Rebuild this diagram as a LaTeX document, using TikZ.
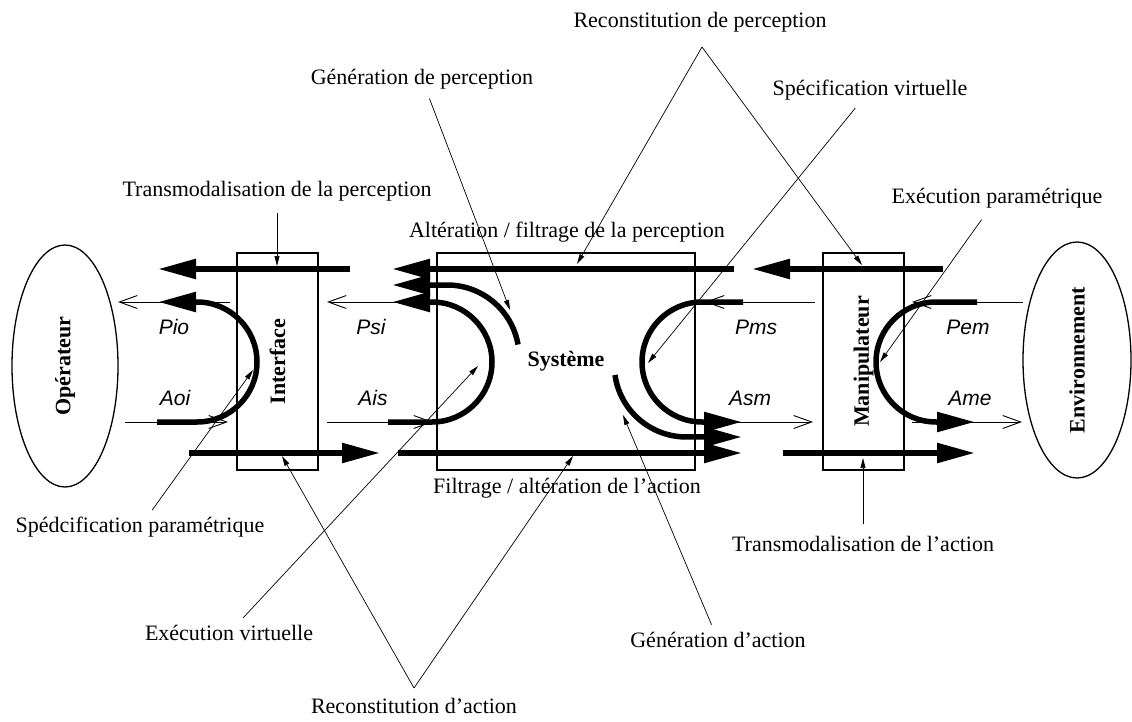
\documentclass[tikz,border=0pt]{standalone}
\usepackage{fontspec}
\setmainfont{Liberation Serif}
\newfontfamily\sigfont{Liberation Sans}
\usetikzlibrary{arrows.meta,shapes.geometric}

\begin{document}
\begin{tikzpicture}[x=1pt,y=-1pt,
  every node/.style={font=\fontsize{22}{26}\selectfont, inner sep=0pt},
  bloc/.style={draw, line width=1.3pt, rotate=90, minimum width=217pt, minimum height=81pt,
    font=\fontsize{22}{26}\selectfont\bfseries},
  acteur/.style={draw, ellipse, line width=1.3pt, rotate=90,
    font=\fontsize{22}{26}\selectfont\bfseries},
  flux/.style={line width=5.5pt, -{Triangle[length=38pt,width=19pt]}},
  signal/.style={line width=0.9pt, -{Straight Barb[length=18pt,width=13pt]}},
  renvoi/.style={line width=0.7pt, -{Triangle[length=10pt,width=5pt]}},
  sig/.style={font=\fontsize{21}{24}\selectfont\sigfont\itshape}]
\useasboundingbox (0,0) rectangle (1132,722);

% acteurs et blocs
\node[acteur, minimum width=242pt, minimum height=106pt] (ope) at (65,366) {Opérateur};
\node[acteur, minimum width=236pt, minimum height=108pt] (env) at (1077,360) {Environnement};
\node[bloc] (ifc) at (277.5,361.5) {Interface};
\node[draw, line width=1.3pt, minimum width=258pt, minimum height=217pt,
  font=\fontsize{22}{26}\selectfont\bfseries] (sys) at (566,361.5) {Système};
\node[bloc] (man) at (863.5,361.5) {Manipulateur};

% signaux fins
\draw[signal] (230,302) -- (118,302);
\draw[signal] (125,422) -- (228,422);
\draw[signal] (437,302) -- (327,302);
\draw[signal] (327,422) -- (433,422);
\draw[signal] (815,302) -- (705,302);
\draw[signal] (695,422) -- (813,422);
\draw[signal] (1023,302) -- (912,302);
\draw[signal] (912,422) -- (1022,422);
\node[sig] (pio) at (174,327) {Pio};
\node[sig] (aoi) at (175,398) {Aoi};
\node[sig] (psi) at (371,327) {Psi};
\node[sig] (ais) at (373,398) {Ais};
\node[sig] (pms) at (756,327) {Pms};
\node[sig] (asm) at (750,398) {Asm};
\node[sig] (pem) at (968,327) {Pem};
\node[sig] (ame) at (970,398) {Ame};

% flux epais: perception (haut) et action (bas)
\draw[flux] (350,269) -- (158,269);
\draw[flux] (734,269) -- (392,269);
\draw[flux] (943,269) -- (752,269);
\draw[flux] (189,453) -- (380,453);
\draw[flux] (398,453) -- (742,453);
\draw[flux] (783,453) -- (975,453);

% boucles
\draw[flux] (157,422) -- (197,422) arc[start angle=90, end angle=-90, radius=60] -- (158,302);
\draw[flux] (388,422) -- (432,422) arc[start angle=90, end angle=-90, radius=60] -- (392,302);
\draw[flux] (518,344.5) arc[start angle=-10, end angle=-90, radius=72] -- (392,285);
\draw[flux] (743,302) -- (702,302) arc[start angle=-90, end angle=-270, radius=60] -- (742,422);
\draw[flux] (615,375) arc[start angle=172, end angle=90, radius=72] -- (742,437);
\draw[flux] (977,302) -- (936,302) arc[start angle=-90, end angle=-270, radius=60] -- (975,422);

% legendes
\node (tp) at (277,191) {Transmodalisation de la perception};
\node (ap) at (567,232) {Altération / filtrage de la perception};
\node (gp) at (422,79) {Génération de perception};
\node (rp) at (700,22) {Reconstitution de perception};
\node (sv) at (870,90) {Spécification virtuelle};
\node (ep) at (997,198) {Exécution paramétrique};
\node (spp) at (140,527) {Spédcification paramétrique};
\node (ev) at (229,633) {Exécution virtuelle};
\node (ra) at (414,706) {Reconstitution d’action};
\node (fa) at (567,488) {Filtrage / altération de l’action};
\node (ga) at (718,640) {Génération d’action};
\node (ta) at (863,544) {Transmodalisation de l’action};

\coordinate (rp-top) at (702,47);
\coordinate (ra-bot) at (414,688);
\draw[renvoi, shorten <=12pt] (tp) -- (277,266);
\draw[renvoi, shorten <=10pt] (gp) -- (510,310);
\draw[renvoi] (rp-top) -- (577,264);
\draw[renvoi] (rp-top) -- (862,265);
\draw[renvoi, shorten <=10pt] (sv) -- (648,363);
\draw[renvoi, shorten <=14pt] (ep) -- (880,362);
\draw[renvoi, shorten <=8pt] (spp) -- (253,370);
\draw[renvoi, shorten <=10pt] (ev) -- (478,366);
\draw[renvoi] (ra-bot) -- (282,456);
\draw[renvoi] (ra-bot) -- (573,456);
\draw[renvoi, shorten <=8pt] (ga) -- (623,415);
\draw[renvoi, shorten <=12pt] (ta) -- (863,458);
\end{tikzpicture}
\end{document}
